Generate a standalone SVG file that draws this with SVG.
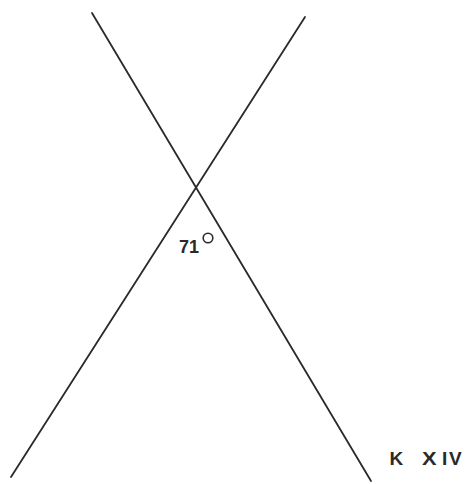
<svg xmlns="http://www.w3.org/2000/svg" width="468" height="484" viewBox="0 0 468 484">
<style>
.ln{stroke:#2a2a2a;stroke-width:1.8;fill:none;stroke-linecap:round}
.t{font-family:"Liberation Sans",Arial,sans-serif;font-weight:bold;fill:#2a2a2a}
</style>
<rect width="468" height="484" fill="#fff"/>
<g id="connectors">
<line class="ln" x1="92" y1="13" x2="371" y2="481"/>
<line class="ln" x1="305" y1="17" x2="11" y2="477"/>
</g>
<g id="angle">
<text class="t" x="179" y="253" font-size="18">71</text>
<circle cx="208" cy="238" r="4.8" fill="none" stroke="#2a2a2a" stroke-width="1.6"/>
</g>
<g id="label">
<text class="t" x="389.5" y="465" font-size="19">K</text>
<text class="t" x="422" y="465" font-size="19" transform="translate(422 465) scale(1.15 1) translate(-422 -465)">X</text>
<text class="t" x="442" y="465" font-size="19">I</text>
<text class="t" x="449" y="465" font-size="19">V</text>
</g>
</svg>
